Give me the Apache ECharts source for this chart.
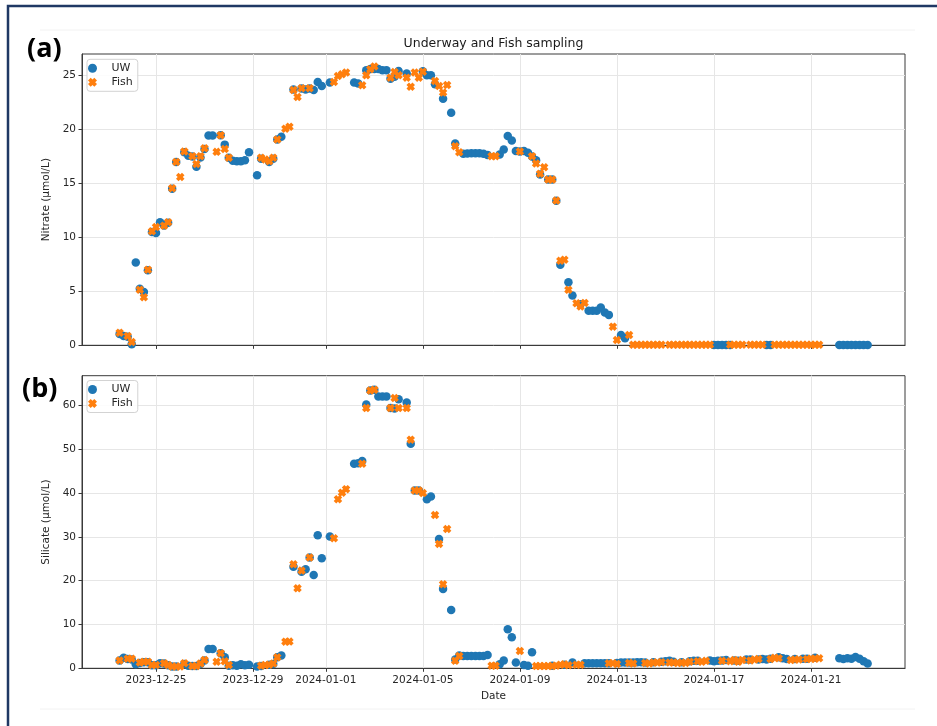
<!DOCTYPE html>
<html>
<head>
<meta charset="utf-8">
<script src="https://cdn.jsdelivr.net/npm/echarts@6/dist/echarts.min.js"></script>
<style>
html, body { margin: 0; padding: 0; background: #ffffff; }
#chart { width: 937px; height: 726px; }
</style>
</head>
<body>
<div id="chart"></div>
<script>
// Sampling times (every 4 hours)
const sampleTime = [
  '2023-12-23 12:00','2023-12-23 16:00','2023-12-23 20:00',
  '2023-12-24 00:00','2023-12-24 04:00','2023-12-24 08:00','2023-12-24 12:00','2023-12-24 16:00','2023-12-24 20:00',
  '2023-12-25 00:00','2023-12-25 04:00','2023-12-25 08:00','2023-12-25 12:00','2023-12-25 16:00','2023-12-25 20:00',
  '2023-12-26 00:00','2023-12-26 04:00','2023-12-26 08:00','2023-12-26 12:00','2023-12-26 16:00','2023-12-26 20:00',
  '2023-12-27 00:00','2023-12-27 04:00','2023-12-27 08:00','2023-12-27 12:00','2023-12-27 16:00','2023-12-27 20:00',
  '2023-12-28 00:00','2023-12-28 04:00','2023-12-28 08:00','2023-12-28 12:00','2023-12-28 16:00','2023-12-28 20:00',
  '2023-12-29 00:00','2023-12-29 04:00','2023-12-29 08:00','2023-12-29 12:00','2023-12-29 16:00','2023-12-29 20:00',
  '2023-12-30 00:00','2023-12-30 04:00','2023-12-30 08:00','2023-12-30 12:00','2023-12-30 16:00','2023-12-30 20:00',
  '2023-12-31 00:00','2023-12-31 04:00','2023-12-31 08:00','2023-12-31 12:00','2023-12-31 16:00','2023-12-31 20:00',
  '2024-01-01 00:00','2024-01-01 04:00','2024-01-01 08:00','2024-01-01 12:00','2024-01-01 16:00','2024-01-01 20:00',
  '2024-01-02 00:00','2024-01-02 04:00','2024-01-02 08:00','2024-01-02 12:00','2024-01-02 16:00','2024-01-02 20:00',
  '2024-01-03 00:00','2024-01-03 04:00','2024-01-03 08:00','2024-01-03 12:00','2024-01-03 16:00','2024-01-03 20:00',
  '2024-01-04 00:00','2024-01-04 04:00','2024-01-04 08:00','2024-01-04 12:00','2024-01-04 16:00','2024-01-04 20:00',
  '2024-01-05 00:00','2024-01-05 04:00','2024-01-05 08:00','2024-01-05 12:00','2024-01-05 16:00','2024-01-05 20:00',
  '2024-01-06 00:00','2024-01-06 04:00','2024-01-06 08:00','2024-01-06 12:00','2024-01-06 16:00','2024-01-06 20:00',
  '2024-01-07 00:00','2024-01-07 04:00','2024-01-07 08:00','2024-01-07 12:00','2024-01-07 16:00','2024-01-07 20:00',
  '2024-01-08 00:00','2024-01-08 04:00','2024-01-08 08:00','2024-01-08 12:00','2024-01-08 16:00','2024-01-08 20:00',
  '2024-01-09 00:00','2024-01-09 04:00','2024-01-09 08:00','2024-01-09 12:00','2024-01-09 16:00','2024-01-09 20:00',
  '2024-01-10 00:00','2024-01-10 04:00','2024-01-10 08:00','2024-01-10 12:00','2024-01-10 16:00','2024-01-10 20:00',
  '2024-01-11 00:00','2024-01-11 04:00','2024-01-11 08:00','2024-01-11 12:00','2024-01-11 16:00','2024-01-11 20:00',
  '2024-01-12 00:00','2024-01-12 04:00','2024-01-12 08:00','2024-01-12 12:00','2024-01-12 16:00','2024-01-12 20:00',
  '2024-01-13 00:00','2024-01-13 04:00','2024-01-13 08:00','2024-01-13 12:00','2024-01-13 16:00','2024-01-13 20:00',
  '2024-01-14 00:00','2024-01-14 04:00','2024-01-14 08:00','2024-01-14 12:00','2024-01-14 16:00','2024-01-14 20:00',
  '2024-01-15 00:00','2024-01-15 04:00','2024-01-15 08:00','2024-01-15 12:00','2024-01-15 16:00','2024-01-15 20:00',
  '2024-01-16 00:00','2024-01-16 04:00','2024-01-16 08:00','2024-01-16 12:00','2024-01-16 16:00','2024-01-16 20:00',
  '2024-01-17 00:00','2024-01-17 04:00','2024-01-17 08:00','2024-01-17 12:00','2024-01-17 16:00','2024-01-17 20:00',
  '2024-01-18 00:00','2024-01-18 04:00','2024-01-18 08:00','2024-01-18 12:00','2024-01-18 16:00','2024-01-18 20:00',
  '2024-01-19 00:00','2024-01-19 04:00','2024-01-19 08:00','2024-01-19 12:00','2024-01-19 16:00','2024-01-19 20:00',
  '2024-01-20 00:00','2024-01-20 04:00','2024-01-20 08:00','2024-01-20 12:00','2024-01-20 16:00','2024-01-20 20:00',
  '2024-01-21 00:00','2024-01-21 04:00','2024-01-21 08:00','2024-01-21 12:00','2024-01-21 16:00','2024-01-21 20:00',
  '2024-01-22 00:00','2024-01-22 04:00','2024-01-22 08:00','2024-01-22 12:00','2024-01-22 16:00','2024-01-22 20:00',
  '2024-01-23 00:00','2024-01-23 04:00','2024-01-23 08:00'
];

// Nitrate (µmol/L), underway system
const nitrateUW = [
  1.05, 0.86, 0.8,
  0.1, 7.68, 5.25, 4.93, 6.95, 10.5,
  10.4, 11.4, 11.1, 11.35, 14.5, 17.0,
  null, 17.9, 17.56, 17.5, 16.54, 17.4,
  18.2, 19.45, 19.45, null, 19.48, 18.6,
  17.38, 17.1, 17.05, 17.05, 17.15, 17.9,
  null, 15.76, 17.3, null, 17.0, 17.3,
  19.08, 19.33, null, null, 23.7, null,
  23.8, 23.7, 23.8, 23.66, 24.4, 24.03,
  null, 24.35, null, null, null, null,
  null, 24.35, 24.26, null, 25.5, 25.6,
  25.6, 25.6, 25.5, 25.5, 24.7, 24.9,
  25.43, null, 25.19, null, null, null,
  25.4, 25.03, 25.03, 24.2, null, 22.86,
  null, 21.56, 18.7, null, 17.75, 17.78,
  17.8, 17.8, 17.8, 17.75, 17.65, null,
  null, 17.69, 18.15, 19.39, 18.99, 18.0,
  17.96, 18.0, 17.84, 17.5, 17.16, 15.83,
  null, 15.36, 15.36, 13.4, 7.46, null,
  5.85, 4.61, null, 3.8, null, 3.2,
  3.2, 3.2, 3.5, 3.03, 2.82, null,
  null, 0.96, 0.65, null, null, null,
  null, null, null, null, null, null,
  null, null, null, null, null, null,
  null, null, null, null, null, null,
  0.03, 0.03, 0.03, 0.03, 0.03, null,
  null, null, null, null, null, null,
  null, 0.03, 0.03, null, null, null,
  null, null, null, null, null, null,
  null, null, null, null, null, null,
  null, 0.03, 0.03, 0.03, 0.03, 0.03,
  0.03, 0.03, 0.03
];

// Nitrate (µmol/L), fish sampling
const nitrateFish = [
  1.17, null, 0.86,
  0.3, null, 5.15, 4.46, 7.0, 10.56,
  10.96, null, 11.09, 11.4, 14.55, 17.0,
  15.6, 17.96, null, 17.53, 16.8, 17.53,
  18.27, null, null, 17.93, 19.48, 18.2,
  17.38, null, null, null, null, null,
  null, null, 17.38, 17.22, 17.06, 17.38,
  19.08, null, 20.07, 20.26, 23.66, 23.01,
  23.82, null, 23.82, null, null, null,
  null, null, 24.4, 24.96, 25.12, 25.28,
  null, null, null, 24.1, 25.03, 25.58,
  25.84, null, null, null, 24.8, 25.33,
  25.03, null, 24.81, 23.97, 25.28, 24.81,
  25.35, null, null, 24.5, 24.03, 23.42,
  24.13, null, 18.46, 17.9, null, null,
  null, null, null, null, null, 17.53,
  17.53, null, null, null, null, null,
  17.96, null, null, 17.53, 16.85, 15.9,
  16.5, 15.36, 15.36, 13.41, 7.83, 7.93,
  5.14, null, 3.9, 3.59, 3.93, null,
  null, null, null, null, null, 1.73,
  0.49, null, null, 0.96, 0.05, 0.05,
  0.05, 0.05, 0.05, 0.05, 0.05, 0.05,
  null, 0.05, 0.05, 0.05, 0.05, 0.05,
  0.05, 0.05, 0.05, 0.05, 0.05, 0.05,
  null, null, null, null, 0.05, 0.05,
  0.05, 0.05, null, 0.05, 0.05, 0.05,
  0.05, null, null, 0.05, 0.05, 0.05,
  0.05, 0.05, 0.05, 0.05, 0.05, 0.05,
  0.05, 0.05, 0.05, null, null, null,
  null, null, null, null, null, null,
  null, null, null
];

// Silicate (µmol/L), underway system
const silicateUW = [
  1.8, 2.4, 2.1,
  2.0, 0.9, 1.2, 1.4, 1.4, 0.7,
  0.7, 1.14, 1.1, 0.7, 0.4, 0.4,
  null, 1.0, 0.6, 0.5, 0.5, 1.0,
  1.8, 4.4, 4.4, null, 3.43, 2.5,
  0.6, 0.7, 0.6, 0.9, 0.7, 0.8,
  null, 0.4, 0.5, null, 0.8, 1.0,
  2.5, 2.9, null, null, 23.2, null,
  22.07, 22.6, 25.27, 21.3, 30.4, 25.1,
  null, 30.07, null, null, null, null,
  null, 46.7, 46.8, 47.3, 60.2, 63.4,
  63.6, 62.05, 62.05, 62.05, 59.4, 59.3,
  61.45, null, 60.7, 51.25, 40.6, 40.6,
  null, 38.6, 39.2, null, 29.5, 18.1,
  null, 13.3, 2.0, 2.9, 2.8, 2.8,
  2.8, 2.8, 2.8, 2.8, 3.04, null,
  null, 0.9, 1.8, 8.9, 7.1, 1.3,
  null, 0.75, 0.6, 3.65, null, null,
  null, null, 0.6, null, null, 0.8,
  null, 1.3, null, null, 1.14, 1.14,
  1.14, 1.14, 1.14, 1.14, 1.14, null,
  1.2, 1.3, 1.3, 1.35, 1.3, 1.4,
  1.4, 1.3, null, 1.4, null, 1.5,
  1.6, 1.7, 1.5, null, 1.4, null,
  1.6, 1.7, 1.7, null, null, 1.8,
  1.6, 1.7, 1.8, 1.9, null, 1.8,
  1.7, null, 2.0, 2.0, null, 2.0,
  2.1, 2.0, 2.2, null, 2.5, 2.3,
  2.1, null, 2.1, null, 2.2, 2.2,
  null, 2.4, null, null, null, null,
  null, 2.3, 2.1, 2.3, 2.2, 2.6,
  2.2, 1.6, 1.1
];

// Silicate (µmol/L), fish sampling
const silicateFish = [
  1.8, null, 2.2,
  2.2, null, 1.3, 1.5, 1.5, 0.75,
  0.75, null, 1.14, 0.75, 0.4, 0.4,
  0.4, 1.14, null, 0.5, 0.5, 1.1,
  1.9, null, null, 1.5, 3.43, 1.6,
  0.75, null, null, null, null, null,
  null, null, 0.6, 0.75, 0.8, 1.1,
  2.5, null, 6.08, 6.1, 23.76, 18.27,
  22.3, null, 25.27, null, null, null,
  null, null, 29.7, 38.6, 40.1, 40.9,
  null, null, null, 46.7, 59.4, 63.4,
  63.6, null, null, null, 59.4, 61.7,
  59.4, null, 59.4, 52.2, 40.6, 40.6,
  40.0, null, null, 35.0, 28.4, 19.2,
  31.8, null, 1.74, 2.8, null, null,
  null, null, null, null, null, 0.6,
  0.6, null, null, null, null, null,
  3.95, null, null, null, 0.5, 0.5,
  0.5, 0.5, 0.5, 0.6, 0.8, 0.9,
  0.7, null, 0.8, 0.8, null, null,
  null, null, null, null, 1.14, 1.14,
  1.0, null, null, 1.2, 1.1, null,
  null, 1.2, 1.1, 1.3, 1.3, 1.4,
  null, 1.3, 1.3, 1.2, 1.3, 1.2,
  1.5, null, 1.6, 1.5, 1.7, null,
  null, null, 1.7, null, 1.6, 1.9,
  1.5, 1.9, null, 1.8, 2.0, 2.1,
  null, null, 2.1, 2.4, 2.3, null,
  null, 1.9, 2.0, 2.0, null, 2.1,
  2.2, 2.2, 2.3, null, null, null,
  null, null, null, null, null, null,
  null, null, null
];

// Axis ticks
const dateTicks = ['2023-12-25', '2023-12-29', '2024-01-01', '2024-01-05',
                   '2024-01-09', '2024-01-13', '2024-01-17', '2024-01-21'];
const nitrateTicks = [0, 5, 10, 15, 20, 25];
const silicateTicks = [0, 10, 20, 30, 40, 50, 60];

const colors = { UW: '#1f77b4', Fish: '#ff7f0e' };

// filled, thick "X" marker
const xMarker = 'path://M0,3 L3,0 L5,2 L7,0 L10,3 L8,5 L10,7 L7,10 L5,8 L3,10 L0,7 L2,5 Z';

function pairs(values) {
  const out = [];
  for (let i = 0; i < sampleTime.length; i++) {
    if (values[i] !== null && values[i] !== undefined) out.push([sampleTime[i], values[i]]);
  }
  return out;
}

const FONT = '"DejaVu Sans", sans-serif';
const spine = '#3a3a3a';
const gridColor = '#e6e6e6';

function xAxisFor(idx, showLabels) {
  return {
    type: 'time', gridIndex: idx,
    min: '2023-12-21 22:48', max: '2024-01-24 20:58',
    name: showLabels ? 'Date' : '',
    nameLocation: 'middle', nameGap: 22,
    nameTextStyle: { fontFamily: FONT, fontSize: 10.5, color: '#262626' },
    axisLine: { show: true, lineStyle: { color: spine, width: 1 } },
    axisTick: { show: true, inside: false, length: 3.5, lineStyle: { color: spine }, customValues: dateTicks },
    axisLabel: { show: showLabels, customValues: dateTicks, formatter: '{yyyy}-{MM}-{dd}',
                 fontFamily: FONT, fontSize: 10.5, color: '#262626', margin: 6, hideOverlap: false },
    splitLine: { show: true, lineStyle: { color: gridColor, width: 1 } },
    minorTick: { show: false }
  };
}

function yAxisFor(idx, maxV, ticks, title) {
  return {
    type: 'value', gridIndex: idx, min: 0, max: maxV,
    name: title, nameLocation: 'middle', nameGap: 23, nameRotate: 90,
    nameTextStyle: { fontFamily: FONT, fontSize: 10.5, color: '#262626' },
    axisLine: { show: true, lineStyle: { color: spine, width: 1 } },
    axisTick: { show: true, inside: false, length: 3.5, lineStyle: { color: spine }, customValues: ticks },
    axisLabel: { customValues: ticks, fontFamily: FONT, fontSize: 10.5, color: '#262626', margin: 6 },
    splitLine: { show: true, lineStyle: { color: gridColor, width: 1 } }
  };
}

function scatter(name, idx, values) {
  const isFish = name === 'Fish';
  return {
    name: name, type: 'scatter', xAxisIndex: idx, yAxisIndex: idx,
    data: pairs(values),
    symbol: isFish ? xMarker : 'circle',
    symbolSize: isFish ? 8.5 : 8.5,
    itemStyle: { color: colors[name], opacity: 1 },
    emphasis: { disabled: true },
    z: isFish ? 3 : 2,
    animation: false
  };
}

function legendFor(top) {
  return {
    left: 87, top: top, orient: 'vertical',
    data: [{ name: 'UW', icon: 'circle' }, { name: 'Fish', icon: xMarker }],
    itemWidth: 28, itemHeight: 9, itemGap: 3,
    padding: [3.5, 5, 3.5, 1],
    backgroundColor: 'rgba(255,255,255,0.85)',
    borderColor: '#d3d3d3', borderWidth: 1, borderRadius: 3,
    textStyle: { fontFamily: FONT, fontSize: 11, color: '#262626' },
    selectedMode: false
  };
}

const chart = echarts.init(document.getElementById('chart'), null, { renderer: 'canvas' });
chart.setOption({
  animation: false,
  backgroundColor: '#ffffff',
  grid: [
    { left: 82, right: 32, top: 54, height: 291.3, show: true, borderColor: spine, borderWidth: 1, backgroundColor: 'transparent' },
    { left: 82, right: 32, top: 375.7, height: 292.6, show: true, borderColor: spine, borderWidth: 1, backgroundColor: 'transparent' }
  ],
  xAxis: [xAxisFor(0, false), xAxisFor(1, true)],
  yAxis: [
    yAxisFor(0, 27.0, nitrateTicks, 'Nitrate (µmol/L)'),
    yAxisFor(1, 66.8, silicateTicks, 'Silicate (µmol/L)')
  ],
  legend: [legendFor(59.3), legendFor(380.5)],
  series: [
    scatter('UW', 0, nitrateUW),
    scatter('Fish', 0, nitrateFish),
    scatter('UW', 1, silicateUW),
    scatter('Fish', 1, silicateFish)
  ],
  graphic: [
    { type: 'rect', silent: true, z: 100,
      shape: { x: 8, y: 6, width: 940, height: 740 },
      style: { fill: null, stroke: '#1f3864', lineWidth: 2.5 } },
    { type: 'line', silent: true, shape: { x1: 40, y1: 30, x2: 915, y2: 30 },
      style: { stroke: '#f2f2f2', lineWidth: 1 } },
    { type: 'line', silent: true, shape: { x1: 40, y1: 709, x2: 915, y2: 709 },
      style: { stroke: '#f2f2f2', lineWidth: 1 } },
    { type: 'text', silent: true, x: 493.5, y: 44,
      style: { text: 'Underway and Fish sampling', fontFamily: FONT, fontSize: 12.5,
               fill: '#1a1a1a', align: 'center', verticalAlign: 'middle' } },
    { type: 'text', silent: true, x: 27, y: 49,
      style: { text: '(a)', fontFamily: '"Open Sans", sans-serif', fontWeight: 'bold', fontSize: 27,
               fill: '#000000', align: 'left', verticalAlign: 'middle' } },
    { type: 'text', silent: true, x: 22, y: 389,
      style: { text: '(b)', fontFamily: '"Open Sans", sans-serif', fontWeight: 'bold', fontSize: 27,
               fill: '#000000', align: 'left', verticalAlign: 'middle' } }
  ]
});
</script>
</body>
</html>
